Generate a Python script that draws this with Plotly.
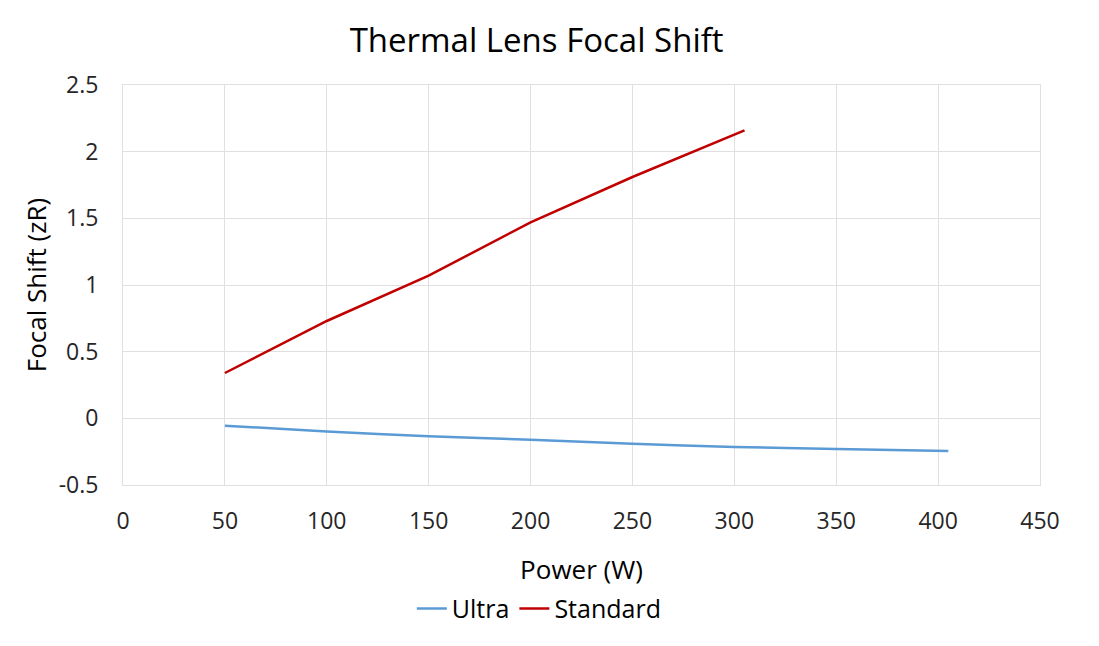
import plotly.graph_objects as go

ultra_power = [50, 100, 150, 200, 250, 300, 350, 405]
ultra_shift = [-0.055, -0.098, -0.135, -0.16, -0.19, -0.215, -0.23, -0.245]

standard_power = [50, 100, 150, 200, 250, 305]
standard_shift = [0.34, 0.73, 1.07, 1.47, 1.81, 2.16]

y_ticks = [-0.5, 0, 0.5, 1, 1.5, 2, 2.5]
y_tick_labels = ["-0.5", "0", "0.5", "1", "1.5", "2", "2.5"]
x_ticks = [0, 50, 100, 150, 200, 250, 300, 350, 400, 450]

font_family = "Open Sans"

fig = go.Figure()
fig.add_trace(go.Scatter(x=ultra_power, y=ultra_shift, mode="lines", name="Ultra",
                         line=dict(color="#5b9bd5", width=2.5, shape="spline", smoothing=0.6)))
fig.add_trace(go.Scatter(x=standard_power, y=standard_shift, mode="lines", name="Standard",
                         line=dict(color="#c00000", width=2.5)))

fig.update_layout(
    width=1099, height=646,
    paper_bgcolor="white", plot_bgcolor="white",
    margin=dict(l=115, r=67, t=77, b=169),
    font=dict(family=font_family, color="#262626", size=23),
    title=dict(text="Thermal Lens Focal Shift", x=0.481, xanchor="center", y=0.95, yanchor="middle",
               font=dict(size=33, color="#000000")),
    xaxis=dict(range=[0, 450], tickvals=x_ticks, showgrid=True, gridcolor="#e0e0e0", gridwidth=1,
               zeroline=False, showline=True, linecolor="#e0e0e0", mirror=True,
               ticks="", ticklabelstandoff=15,
               title=dict(text="Power (W)", font=dict(size=26, color="#000000"), standoff=26)),
    yaxis=dict(range=[-0.5, 2.5], tickvals=y_ticks, ticktext=y_tick_labels, showgrid=True,
               gridcolor="#e0e0e0", gridwidth=1,
               zeroline=False, showline=True, linecolor="#e0e0e0", mirror=True,
               ticks="", ticklabelstandoff=19,
               title=dict(text="Focal Shift (zR)", font=dict(size=26, color="#000000"), standoff=4)),
    legend=dict(orientation="h", x=0.454, xanchor="center", y=-0.252, yanchor="top",
                font=dict(size=25, color="#000000"), itemwidth=30, tracegroupgap=0),
    showlegend=True,
)

fig.write_html("out.html")
